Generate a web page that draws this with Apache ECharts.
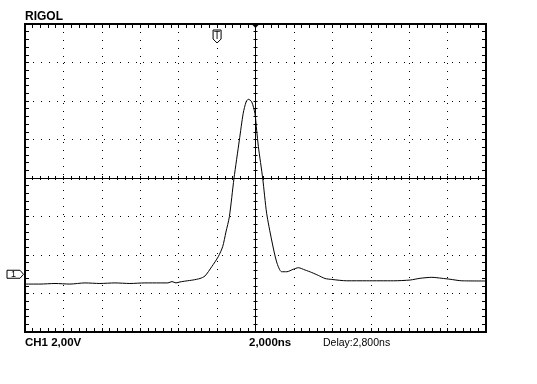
<!DOCTYPE html>
<html>
<head>
<meta charset="utf-8">
<style>
  html, body { margin: 0; padding: 0; background: #fff; }
  #main { width: 537px; height: 384px; }
</style>
<script src="https://cdn.jsdelivr.net/npm/echarts@6/dist/echarts.min.js"></script>
</head>
<body>
<div id="main"></div>
<script>
// trace: time in ns (screen centre = 0), volts (screen centre = 0)
const timeNs = [-12.0, -11.22, -10.44, -9.66, -8.88, -8.10, -7.32, -6.54, -5.76, -4.97,
  -4.56, -4.35, -4.14, -3.93, -3.62, -3.26, -2.89, -2.63, -2.28, -1.94,
  -1.71, -1.54, -1.36, -1.12, -0.84, -0.64, -0.49, -0.375, -0.20, -0.03,
  0.06, 0.15, 0.375, 0.58, 0.84, 1.10, 1.36, 1.63, 1.97, 2.23,
  2.58, 2.93, 3.27, 3.62, 3.97, 4.75, 5.79, 7.18, 8.05, 8.57,
  9.18, 9.70, 10.13, 10.74, 12.0]
const voltV = [-5.51, -5.51, -5.48, -5.51, -5.45, -5.48, -5.45, -5.48, -5.45, -5.45,
  -5.45, -5.38, -5.45, -5.40, -5.35, -5.30, -5.22, -5.09, -4.61, -4.09,
  -3.57, -2.81, -2.01, -0.02, 1.97, 3.36, 3.95, 4.09, 3.96, 3.36,
  2.49, 1.63, -0.02, -1.83, -3.22, -4.36, -4.87, -4.87, -4.74, -4.66,
  -4.78, -4.91, -5.06, -5.22, -5.27, -5.34, -5.34, -5.34, -5.30, -5.21,
  -5.16, -5.21, -5.26, -5.34, -5.35]

// markers
const trigTimeNs = -2.0
const ch1GroundV = -5.0

// screen texts
const brandText = 'RIGOL'
const chText = 'CH1 2,00V'
const timebaseText = '2,000ns'
const delayText = 'Delay:2,800ns'

const chart = echarts.init(document.getElementById('main'))

// one dot every 1/5 div, whole pixels so the dots stay sharp (2 divs = 77px)
const dotPattern = [1, 7, 1, 7, 1, 7, 1, 7, 1, 6, 1, 7, 1, 7, 1, 7, 1, 7, 1, 7]

// 12 x 8 divisions, 5 sub ticks per division
function timeAxis(pos, center, tickLen, split) {
  return {
    type: 'value', min: -12, max: 12, interval: 2, position: pos,
    axisLine: { show: center, onZero: center, onZeroAxisIndex: 0, lineStyle: { color: '#000', width: 1 } },
    axisTick: { show: true, inside: true, length: tickLen, lineStyle: { color: '#000' } },
    minorTick: { show: true, splitNumber: 5, length: tickLen, lineStyle: { color: '#000' } },
    axisLabel: { show: false },
    splitLine: { show: split, lineStyle: { color: '#000', width: 1, type: dotPattern } },
    minorSplitLine: { show: false }
  }
}
function voltAxis(pos, center, tickLen, split) {
  return {
    type: 'value', min: -8, max: 8, interval: 2, position: pos,
    axisLine: { show: center, onZero: center, onZeroAxisIndex: 0, lineStyle: { color: '#000', width: 1 } },
    axisTick: { show: true, inside: true, length: tickLen, lineStyle: { color: '#000' } },
    minorTick: { show: true, splitNumber: 5, length: tickLen, lineStyle: { color: '#000' } },
    axisLabel: { show: false },
    splitLine: { show: split, lineStyle: { color: '#000', width: 1, type: dotPattern } },
    minorSplitLine: { show: false }
  }
}

const option = {
  animation: false,
  backgroundColor: '#fff',
  grid: {
    left: 25, top: 24, width: 461, height: 308,
    show: true, borderColor: '#000', borderWidth: 2, backgroundColor: 'transparent'
  },
  xAxis: [
    timeAxis('bottom', false, 4, true),
    timeAxis('top', false, 4, false),
    timeAxis('bottom', true, 2, false),
    timeAxis('top', true, 2, false)
  ],
  yAxis: [
    voltAxis('left', false, 4, true),
    voltAxis('right', false, 4, false),
    voltAxis('left', true, 2, false),
    voltAxis('right', true, 2, false)
  ],
  series: [{
    type: 'line',
    xAxisIndex: 0,
    yAxisIndex: 0,
    data: timeNs.map((t, i) => [t, voltV[i]]),
    showSymbol: false,
    smooth: 0.25,
    lineStyle: { color: '#000', width: 1 },
    z: 5
  }]
}
chart.setOption(option)

// markers placed through the axes
const tx = chart.convertToPixel({ xAxisIndex: 0 }, trigTimeNs)
const cx = chart.convertToPixel({ xAxisIndex: 0 }, 0)
const topY = chart.convertToPixel({ yAxisIndex: 0 }, 8)
const gy = chart.convertToPixel({ yAxisIndex: 0 }, ch1GroundV)

chart.setOption({
  graphic: [
    { type: 'text', left: 25, top: 11, style: { text: brandText, font: 'bold 12px "Liberation Sans", Arial', fill: '#000' } },
    { type: 'text', left: 25, top: 337, style: { text: chText, font: 'bold 11.5px "Liberation Sans", Arial', fill: '#000' } },
    { type: 'text', left: 249, top: 337, style: { text: timebaseText, font: 'bold 11.5px "Liberation Sans", Arial', fill: '#000' } },
    { type: 'text', left: 323, top: 338, style: { text: delayText, font: '10.5px "Liberation Sans", Arial', fill: '#000' } },
    {
      type: 'polygon', z: 10,
      shape: { points: [[tx - 4, topY + 6], [tx + 4, topY + 6], [tx + 4, topY + 15], [tx, topY + 19], [tx - 4, topY + 15]] },
      style: { fill: '#fff', stroke: '#000', lineWidth: 1 }
    },
    { type: 'text', z: 11, x: tx, y: topY + 12, style: { text: 'T', font: '10px "Liberation Sans", Arial', fill: '#000', align: 'center', verticalAlign: 'middle' } },
    {
      type: 'polygon', z: 10,
      shape: { points: [[cx - 3, topY + 1], [cx + 3, topY + 1], [cx, topY + 4]] },
      style: { fill: '#000' }
    },
    {
      type: 'polygon', z: 10,
      shape: { points: [[7, gy - 4], [20, gy - 4], [23.5, gy], [20, gy + 4], [7, gy + 4]] },
      style: { fill: '#fff', stroke: '#000', lineWidth: 1 }
    },
    { type: 'text', z: 11, x: 13.5, y: gy, style: { text: '1', font: '9px "Liberation Sans", Arial', fill: '#000', align: 'center', verticalAlign: 'middle' } }
  ]
})
</script>
</body>
</html>
